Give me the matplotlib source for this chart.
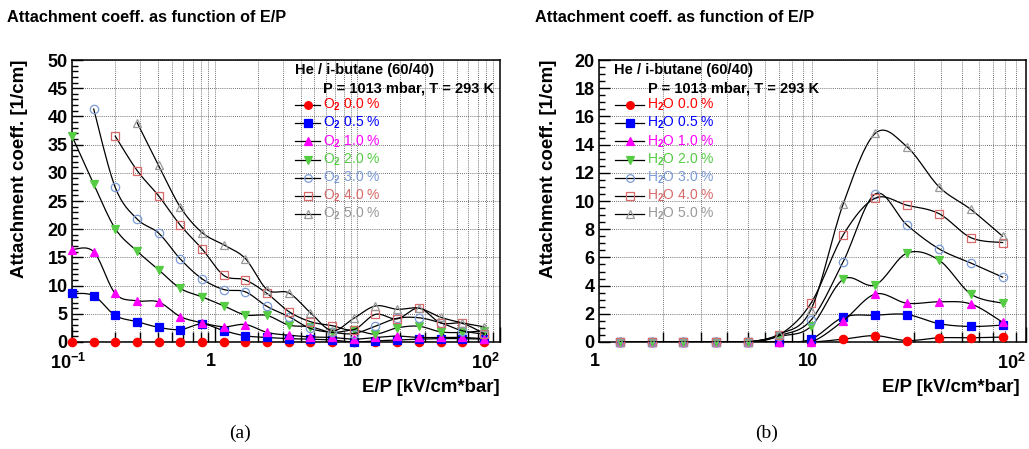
import numpy as np
import matplotlib
matplotlib.use('Agg')
import matplotlib.pyplot as plt
import matplotlib.transforms as mtransforms
from matplotlib.ticker import FixedLocator, NullFormatter, MultipleLocator, LogLocator

plt.rcParams.update({
    'font.family': 'Liberation Sans',
    'font.weight': 'bold',
    'axes.labelweight': 'bold',
    'mathtext.fontset': 'custom',
    'mathtext.rm': 'Liberation Sans',
    'mathtext.bf': 'Liberation Sans:bold',
    'mathtext.default': 'bf',
})

# --- data (a): O2 admixture ---
x_o2 = [0.1, 0.142, 0.201, 0.286, 0.405, 0.575, 0.816, 1.16, 1.64, 2.33,
        3.31, 4.69, 6.66, 9.45, 13.4, 19.0, 27.0, 38.3, 54.3, 77.1]
o2_00 = [0.0] * 20
o2_05 = [8.6, 8.2, 4.7, 3.6, 2.6, 2.2, 3.2, 2.0, 1.1, 0.8,
         0.6, 0.5, 0.35, 0.0, 0.2, 0.35, 0.5, 0.6, 0.6, 0.5]
o2_10 = [16.4, 16.0, 8.6, 7.3, 7.1, 4.5, 3.4, 2.7, 3.1, 1.7,
         1.2, 0.9, 0.8, 0.5, 0.8, 1.05, 0.8, 0.8, 0.8, 0.6]
o2_20 = [36.5, 28.0, 20.1, 16.1, 12.8, 9.5, 8.0, 6.4, 4.8, 4.7,
         3.0, 2.7, 1.7, 2.1, 1.4, 2.5, 2.8, 1.8, 1.7, 2.0]
o2_30 = [41.3, 27.4, 21.8, 19.3, 14.7, 11.2, 9.3, 8.9, 6.3,
         4.5, 2.4, 1.7, 1.5, 2.8, 4.2, 4.3, 3.4, 2.0, 1.4]
o2_40 = [36.5, 30.4, 25.9, 20.7, 16.5, 11.8, 11.0, 8.6,
         5.4, 3.6, 2.9, 2.2, 4.9, 4.1, 6.0, 3.4, 3.3, 1.5]
o2_50 = [38.9, 31.3, 23.9, 19.4, 17.2, 14.8, 9.3,
         8.7, 5.2, 2.0, 4.2, 6.4, 5.8, 6.0, 4.4, 3.4, 2.7]
o2_series = [o2_00, o2_05, o2_10, o2_20, o2_30, o2_40, o2_50]

# --- data (b): H2O admixture ---
x_h2o = [1.26, 1.77, 2.49, 3.53, 4.98, 7.0, 9.85, 13.95, 19.7, 27.7, 39.2, 55.2, 77.7]
h2o_00 = [0, 0, 0, 0, 0, 0, 0, 0.2, 0.45, 0.1, 0.3, 0.3, 0.35]
h2o_05 = [0, 0, 0, 0, 0, 0, 0.2, 1.75, 1.9, 1.95, 1.3, 1.1, 1.2]
h2o_10 = [0, 0, 0, 0, 0, 0, 0, 1.5, 3.4, 2.75, 2.85, 2.7, 1.4]
h2o_20 = [0, 0, 0, 0, 0, 0.4, 1.1, 4.45, 4.05, 6.3, 5.8, 3.4, 2.75]
h2o_30 = [0, 0, 0, 0, 0, 0.45, 1.55, 5.7, 10.5, 8.3, 6.6, 5.6, 4.6]
h2o_40 = [0, 0, 0, 0, 0, 0.5, 2.75, 7.6, 10.2, 9.7, 9.1, 7.4, 7.05]
h2o_50 = [0, 0, 0, 0, 0, 0.55, 2.3, 9.8, 14.8, 13.85, 11.0, 9.4, 7.5]
h2o_series = [h2o_00, h2o_05, h2o_10, h2o_20, h2o_30, h2o_40, h2o_50]

conc = ['0.0', '0.5', '1.0', '2.0', '3.0', '4.0', '5.0']

colors = ['#ff0000', '#0000ff', '#ff00ff', '#55cc44', '#7b9bd6', '#d86a6a', '#999999']
markers = ['o', 's', '^', 'v', 'o', 's', '^']
filled = [True, True, True, True, False, False, False]


def smooth(x, y, n=16):
    # Catmull-Rom curve in (log x, y), like ROOT's "C" option
    lx = np.log10(np.asarray(x, float))
    yy = np.asarray(y, float)
    px = np.concatenate([[lx[0]], lx, [lx[-1]]])
    py = np.concatenate([[yy[0]], yy, [yy[-1]]])
    t = np.linspace(0, 1, n, endpoint=False)
    xs, ys = [], []
    for i in range(1, len(px) - 2):
        for p, out in ((px, xs), (py, ys)):
            p0, p1, p2, p3 = p[i - 1], p[i], p[i + 1], p[i + 2]
            out.append(0.5 * (2 * p1 + (-p0 + p2) * t
                              + (2 * p0 - 5 * p1 + 4 * p2 - p3) * t ** 2
                              + (-p0 + 3 * p1 - 3 * p2 + p3) * t ** 3))
    xs = np.concatenate(xs + [[lx[-1]]])
    ys = np.concatenate(ys + [[yy[-1]]])
    return 10 ** xs, ys


def draw(ax, xfull, series):
    for i, y in enumerate(series):
        x = xfull[len(xfull) - len(y):]
        sx, sy = smooth(x, y)
        ax.plot(sx, sy, color='k', lw=0.9, zorder=3 + i)
        ax.plot(x, y, ls='none', marker=markers[i], ms=6,
                mfc=colors[i] if filled[i] else 'none', mec=colors[i], mew=0.9,
                zorder=3 + i, clip_on=False)


def style(ax, xticks, xlabels, ymax, ymaj, ymin):
    ax.set_xscale('log')
    ax.set_ylim(0, ymax)
    ax.xaxis.set_major_locator(FixedLocator(xticks))
    ax.set_xticklabels(xlabels, fontweight='bold')
    ax.xaxis.set_minor_locator(LogLocator(base=10, subs=np.arange(2, 10)))
    ax.xaxis.set_minor_formatter(NullFormatter())
    ax.yaxis.set_major_locator(MultipleLocator(ymaj))
    ax.yaxis.set_minor_locator(MultipleLocator(ymin))
    ax.tick_params(which='both', direction='in', top=False, right=False, labelsize=13)
    ax.tick_params(axis='x', which='major', length=11, width=1, pad=8)
    ax.tick_params(axis='x', which='minor', length=7, width=1)
    ax.tick_params(axis='y', which='major', length=8, width=1, pad=3)
    ax.tick_params(axis='y', which='minor', length=4, width=1)
    for lab in ax.get_yticklabels():
        lab.set_fontweight('bold')
    # ROOT puts the labels a little left of the tick; the last one ends at it
    shift = mtransforms.ScaledTranslation(-4 / 100, 0, ax.figure.dpi_scale_trans)
    labs = ax.get_xticklabels()
    for lab in labs[:-1]:
        lab.set_transform(lab.get_transform() + shift)
    labs[-1].set_horizontalalignment('right')
    ax.grid(True, axis='x', which='both', color='#444444', lw=0.6, ls=(0, (1, 1.5)))
    ax.grid(True, axis='y', which='major', color='#444444', lw=0.6, ls=(0, (1, 1.5)))
    for s in ax.spines.values():
        s.set_linewidth(1.1)
    ax.set_ylabel('Attachment coeff. [1/cm]', fontsize=13.5, loc='top')
    ax.set_xlabel('E/P [kV/cm*bar]', fontsize=13.4, loc='right')


def legend(ax, x_l0, x_l1, x_t, x_h1, x_h2, prefix):
    # positions in pixels of the figure, converted to axes fraction
    bb = ax.get_position()
    W, H = 1029, 449
    ax0, ay1 = bb.x0 * W, (1 - bb.y1) * H
    aw, ah = bb.width * W, bb.height * H
    fx = lambda px: (px - ax0) / aw
    fy = lambda py: 1 - (py - ay1) / ah
    ax.text(fx(x_h1), fy(70), 'He / i-butane (60/40)', transform=ax.transAxes,
            fontsize=10.5, va='center', ha='left', zorder=20)
    ax.text(fx(x_h2), fy(88.5), 'P = 1013 mbar, T = 293 K', transform=ax.transAxes,
            fontsize=10.5, va='center', ha='left', zorder=20)
    for i in range(7):
        y = fy(105 + 18.2 * i)
        ax.plot([fx(x_l0), fx(x_l1)], [y, y], transform=ax.transAxes,
                color='k', lw=0.9, zorder=20)
        ax.plot([fx((x_l0 + x_l1) / 2)], [y], transform=ax.transAxes, ls='none',
                marker=markers[i], ms=5.5, mfc=colors[i] if filled[i] else 'none',
                mec=colors[i], mew=0.9, zorder=21)
        ax.text(fx(x_t), y, prefix + ' ' + conc[i] + ' %', transform=ax.transAxes,
                color=colors[i], fontsize=10, fontweight='normal',
                va='center', ha='left', zorder=20)


fig = plt.figure(figsize=(10.29, 4.49), dpi=100)
ax1 = fig.add_axes([72 / 1029, 1 - 342 / 449, 428 / 1029, 282 / 449])
ax2 = fig.add_axes([598.7 / 1029, 1 - 342 / 449, 427.3 / 1029, 282 / 449])

draw(ax1, x_o2, o2_series)
ax1.set_xlim(0.1, 100)
style(ax1, [0.1, 1, 10, 100], ['10$^{-1}$', '1', '10', '10$^{2}$'], 50, 5, 1)
ax1.yaxis.set_label_coords(-0.103, 1.0)
ax1.xaxis.set_label_coords(1.0, -0.13)
legend(ax1, 295, 320, 322.7, 295, 323, r'O$_{\mathrm{2}}$')

draw(ax2, x_h2o, h2o_series)
ax2.set_xlim(1, 100)
style(ax2, [1, 10, 100], ['1', '10', '10$^{2}$'], 20, 2, 0.5)
ax2.yaxis.set_label_coords(-0.098, 1.0)
ax2.xaxis.set_label_coords(0.986, -0.13)
legend(ax2, 615, 644, 646.7, 614, 648, r'H$_{\mathrm{2}}$O')

fig.text(7 / 1029, 1 - 17.5 / 449, 'Attachment coeff. as function of E/P',
         fontsize=11.7, va='center', ha='left')
fig.text(535 / 1029, 1 - 17.5 / 449, 'Attachment coeff. as function of E/P',
         fontsize=11.7, va='center', ha='left')
fig.text(240 / 1029, 1 - 433 / 449, '(a)', family='Liberation Serif',
         fontweight='normal', fontsize=14, va='center', ha='center')
fig.text(767 / 1029, 1 - 433 / 449, '(b)', family='Liberation Serif',
         fontweight='normal', fontsize=14, va='center', ha='center')

fig.savefig('out.png', dpi=100)
